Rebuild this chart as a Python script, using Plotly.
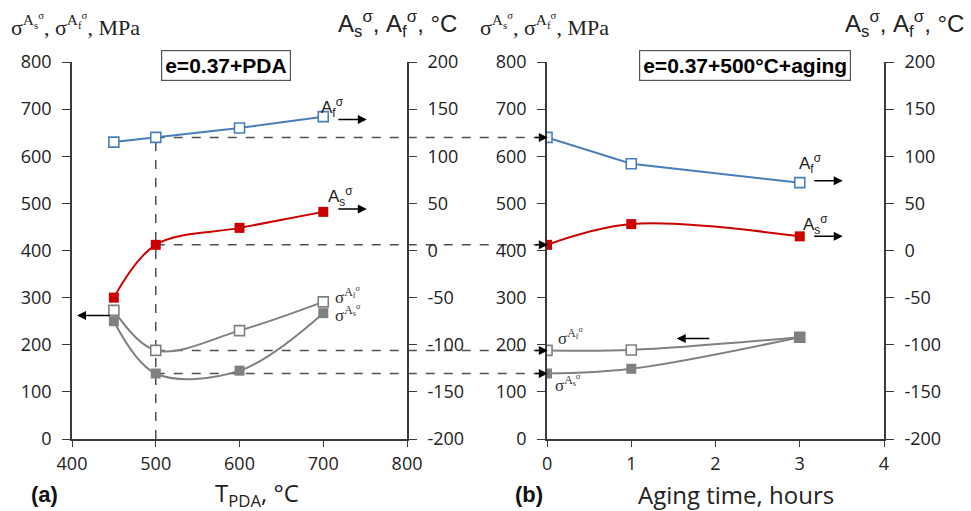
import plotly.graph_objects as go

# ---- (a) post-deformation annealing temperature series ----
t_pda = [450, 500, 600, 700]                 # T_PDA, °C
af_a = [115, 120, 130, 142]                  # A_f^σ, °C
as_a = [-50, 6, 24, 41]                      # A_s^σ, °C
sig_af_a = [273, 188, 230, 291]              # σ^{A_f^σ}, MPa
sig_as_a = [250, 139, 145, 267]              # σ^{A_s^σ}, MPa

# ---- (b) aging time series (after 500 °C PDA) ----
t_age = [0, 1, 3]                            # hours
af_b = [120, 92, 72]
as_b = [6, 28, 15]
sig_af_b = [188, 189, 216]
sig_as_b = [139, 149, 216]

# ---- tick labels ----
mpa_ticks = [0, 100, 200, 300, 400, 500, 600, 700, 800]
mpa_text = ["0", "100", "200", "300", "400", "500", "600", "700", "800"]
degc_ticks = [-200, -150, -100, -50, 0, 50, 100, 150, 200]
degc_text = ["-200", "-150", "-100", "-50", "0", "50", "100", "150", "200"]

x_rng_a = [400, 800]
x_rng_b = [0, 4]
mpa_rng = [0, 800]
degc_rng = [-200, 200]

dom_a = [0.0, 0.4126]
dom_b = [0.585, 1.0]

BLUE = "#4a7ebb"
RED = "#cc0000"
GRAY = "#808080"
AXC = "#3a3a3a"
DASH = "#505050"

TICKFONT = dict(family="Open Sans", size=18, color="#222")


def paper_x(v, rng, dom):
    return dom[0] + (v - rng[0]) / (rng[1] - rng[0]) * (dom[1] - dom[0])


fig = go.Figure()

fill_sq = dict(symbol="square", size=10)

# panel (a)
fig.add_trace(go.Scatter(x=t_pda, y=sig_af_a, xaxis="x", yaxis="y", mode="lines+markers",
                         line=dict(color=GRAY, width=2, shape="spline"),
                         marker=dict(symbol="square", size=10, color="white",
                                     line=dict(color=GRAY, width=1.6))))
fig.add_trace(go.Scatter(x=t_pda, y=sig_as_a, xaxis="x", yaxis="y", mode="lines+markers",
                         line=dict(color=GRAY, width=2, shape="spline"),
                         marker=dict(fill_sq, color=GRAY)))
fig.add_trace(go.Scatter(x=t_pda, y=af_a, xaxis="x", yaxis="y2", mode="lines+markers",
                         line=dict(color=BLUE, width=2),
                         marker=dict(symbol="square", size=10, color="white",
                                     line=dict(color=BLUE, width=1.6))))
fig.add_trace(go.Scatter(x=t_pda, y=as_a, xaxis="x", yaxis="y2", mode="lines+markers",
                         line=dict(color=RED, width=2, shape="spline"),
                         marker=dict(fill_sq, color=RED)))

# panel (b)
fig.add_trace(go.Scatter(x=t_age, y=sig_af_b, xaxis="x2", yaxis="y3", mode="lines+markers",
                         line=dict(color=GRAY, width=2, shape="spline"),
                         marker=dict(symbol="square", size=10, color="white",
                                     line=dict(color=GRAY, width=1.6))))
fig.add_trace(go.Scatter(x=t_age, y=sig_as_b, xaxis="x2", yaxis="y3", mode="lines+markers",
                         line=dict(color=GRAY, width=2, shape="spline"),
                         marker=dict(fill_sq, color=GRAY)))
fig.add_trace(go.Scatter(x=t_age, y=af_b, xaxis="x2", yaxis="y4", mode="lines+markers",
                         line=dict(color=BLUE, width=2),
                         marker=dict(symbol="square", size=10, color="white",
                                     line=dict(color=BLUE, width=1.6))))
fig.add_trace(go.Scatter(x=t_age, y=as_b, xaxis="x2", yaxis="y4", mode="lines+markers",
                         line=dict(color=RED, width=2, shape="spline"),
                         marker=dict(fill_sq, color=RED)))

# ---- axes ----
common_x = dict(showline=True, linecolor=AXC, linewidth=1.6, ticks="outside", ticklen=6,
                tickcolor=AXC, tickwidth=1.4, showgrid=False, zeroline=False,
                tickfont=TICKFONT, ticklabelstandoff=2)
common_y = dict(showline=True, linecolor=AXC, linewidth=1.6, ticks="outside", ticklen=8,
                tickcolor=AXC, tickwidth=1.4, showgrid=False, zeroline=False,
                tickfont=TICKFONT, ticklabelstandoff=7)
mpa_axis = dict(common_y, range=mpa_rng, tickmode="array", tickvals=mpa_ticks, ticktext=mpa_text)
degc_axis = dict(common_y, range=degc_rng, tickmode="array", tickvals=degc_ticks, ticktext=degc_text)

fig.update_layout(
    xaxis=dict(common_x, domain=dom_a, range=x_rng_a, dtick=100, anchor="y"),
    yaxis=dict(mpa_axis, anchor="x", side="left"),
    yaxis2=dict(degc_axis, anchor="x", overlaying="y", side="right"),
    xaxis2=dict(common_x, domain=dom_b, range=x_rng_b, dtick=1, anchor="y3"),
    yaxis3=dict(mpa_axis, anchor="x2", side="left"),
    yaxis4=dict(degc_axis, anchor="x2", overlaying="y3", side="right"),
)

# ---- dashed guide lines linking the 500 °C point to the start of the aging series ----
x500 = paper_x(t_pda[1], x_rng_a, dom_a)
xb0 = dom_b[0]
dash_line = dict(color=DASH, width=1.5, dash="dash")

fig.add_shape(type="line", xref="x", yref="y2", x0=t_pda[1], x1=t_pda[1],
              y0=degc_rng[0], y1=af_a[1], line=dash_line, layer="below")

guides = [("y2", af_a[1]), ("y2", as_a[1]), ("y", sig_af_a[1]), ("y", sig_as_a[1])]
for yref, val in guides:
    fig.add_shape(type="line", xref="paper", yref=yref, x0=x500, x1=xb0 - 0.012,
                  y0=val, y1=val, line=dash_line, layer="below")
    fig.add_annotation(xref="paper", yref=yref, x=xb0 + 0.001, y=val, ax=-14, ay=0,
                       text="", showarrow=True, arrowhead=2, arrowsize=1.2,
                       arrowwidth=1.5, arrowcolor="black")

# ---- direction arrows pointing to the relevant axis ----
arrow = dict(text="", showarrow=True, arrowhead=2, arrowsize=1.2, arrowwidth=1.5,
             arrowcolor="black", ay=0)
fig.add_annotation(arrow, xref="x", yref="y2", x=752, y=139, ax=-30)
fig.add_annotation(arrow, xref="x", yref="y2", x=752, y=44, ax=-30)
fig.add_annotation(arrow, xref="x", yref="y", x=406, y=262, ax=34)
fig.add_annotation(arrow, xref="x2", yref="y4", x=3.51, y=74, ax=-30)
fig.add_annotation(arrow, xref="x2", yref="y4", x=3.51, y=15, ax=-30)
fig.add_annotation(arrow, xref="x2", yref="y3", x=1.54, y=213, ax=34)

# ---- curve labels ----
lab = dict(showarrow=False, font=dict(family="Liberation Sans", size=17, color="#222"))
labs = dict(showarrow=False, font=dict(family="Liberation Serif", size=17, color="#333"))
fig.add_annotation(lab, xref="x", yref="y2", x=711, y=152, text="A<sub>f</sub><sup>σ</sup>")
fig.add_annotation(lab, xref="x", yref="y2", x=721, y=57, text="A<sub>s</sub><sup>σ</sup>")
fig.add_annotation(labs, xref="x", yref="y", x=729, y=304, text="σ<sup>A<sub>f</sub><sup>σ</sup></sup>")
fig.add_annotation(labs, xref="x", yref="y", x=729, y=266, text="σ<sup>A<sub>s</sub><sup>σ</sup></sup>")
fig.add_annotation(lab, xref="x2", yref="y4", x=3.13, y=92, text="A<sub>f</sub><sup>σ</sup>")
fig.add_annotation(lab, xref="x2", yref="y4", x=3.19, y=28, text="A<sub>s</sub><sup>σ</sup>")
fig.add_annotation(labs, xref="x2", yref="y3", x=0.29, y=218, text="σ<sup>A<sub>f</sub><sup>σ</sup></sup>")
fig.add_annotation(labs, xref="x2", yref="y3", x=0.25, y=117, text="σ<sup>A<sub>s</sub><sup>σ</sup></sup>")

# ---- condition boxes ----
box = dict(showarrow=False, xref="paper", yref="paper", xanchor="center", yanchor="middle",
           bgcolor="white", bordercolor="#555", borderwidth=1.2, borderpad=3,
           font=dict(family="Liberation Sans", size=21, color="black"))
fig.add_annotation(box, x=0.19, y=0.992, text="<b>e=0.37+PDA</b>")
fig.add_annotation(box, x=0.829, y=0.992, text="<b>e=0.37+500°C+aging</b>")

# ---- axis titles ----
ttl_serif = dict(showarrow=False, xref="paper", yref="paper", xanchor="left", yanchor="middle",
                 font=dict(family="Liberation Serif", size=22, color="#222"))
ttl_sans = dict(showarrow=False, xref="paper", yref="paper", xanchor="left", yanchor="middle",
                font=dict(family="Liberation Sans", size=24, color="#222"))
mpa_title = "σ<sup>A<sub>s</sub><sup>σ</sup></sup>, σ<sup>A<sub>f</sub><sup>σ</sup></sup>, MPa"
degc_title = "A<sub>s</sub><sup>σ</sup>, A<sub>f</sub><sup>σ</sup>, °C"
fig.add_annotation(ttl_serif, x=-0.077, y=1.1, text=mpa_title)
fig.add_annotation(ttl_sans, x=0.325, y=1.1, text=degc_title)
fig.add_annotation(ttl_serif, x=0.5, y=1.1, text=mpa_title)
fig.add_annotation(ttl_sans, x=0.95, y=1.1, text=degc_title)

# ---- bottom captions ----
cap = dict(showarrow=False, xref="paper", yref="paper", xanchor="center", yanchor="middle",
           font=dict(family="Open Sans", size=24, color="#222"))
capb = dict(showarrow=False, xref="paper", yref="paper", xanchor="left", yanchor="middle",
            font=dict(family="Liberation Sans", size=22, color="#111"))
fig.add_annotation(capb, x=-0.053, y=-0.146, text="<b>(a)</b>")
fig.add_annotation(cap, x=0.228, y=-0.146, text="T<sub>PDA</sub>, °C")
fig.add_annotation(capb, x=0.543, y=-0.146, text="<b>(b)</b>")
fig.add_annotation(cap, x=0.818, y=-0.146, text="Aging time, hours")

fig.update_layout(
    width=971, height=511,
    margin=dict(l=72, r=87, t=62, b=72),
    paper_bgcolor="white", plot_bgcolor="white",
    showlegend=False,
)

fig.write_html("out.html")
